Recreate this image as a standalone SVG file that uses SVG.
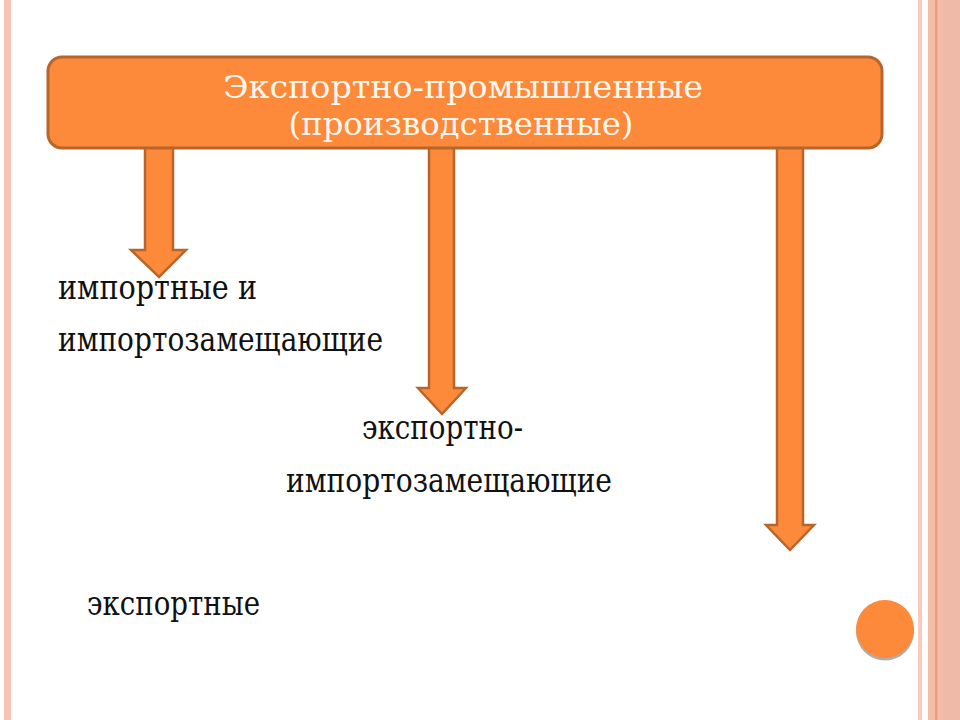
<svg xmlns="http://www.w3.org/2000/svg" width="960" height="720" viewBox="0 0 960 720">
  <defs>
    <style>
      .arrow { fill: #FC8A3A; stroke: #B8652C; stroke-width: 2.5; stroke-linejoin: miter; }
      .box { fill: #FC8A3A; stroke: #B8652C; stroke-width: 3; }
      .title { font-family: "DejaVu Serif", "Liberation Serif", serif; font-size: 31px; fill: #FFF7EE; text-anchor: middle; }
      .label { font-family: "DejaVu Serif", "Liberation Serif", serif; font-size: 33px; fill: #111111; }
    </style>
  </defs>
  <rect x="0" y="0" width="960" height="720" fill="#FFFFFF"/>
  <!-- decorative border stripes -->
  <rect x="4" y="0" width="7" height="720" fill="#F9C4B3"/>
  <rect x="918" y="0" width="4" height="720" fill="#FCCABA"/>
  <rect x="928" y="0" width="32" height="720" fill="#F4BDA9"/>
  <rect x="935" y="0" width="2.5" height="720" fill="#EE9E7E"/>
  <rect x="943" y="0" width="17" height="720" fill="#F0BAA8"/>

  <g id="connectors">
    <path class="arrow" d="M145,146 L173,146 L173,250 L186,250 L159,277 L131,250 L145,250 Z"/>
    <path class="arrow" d="M429,146 L454,146 L454,388 L466,388 L442,414 L418,388 L429,388 Z"/>
    <path class="arrow" d="M777,146 L803,146 L803,525 L814,525 L790,550 L766,525 L777,525 Z"/>
  </g>

  <g id="node-main">
    <rect class="box" x="48" y="57" width="834" height="91" rx="14" ry="14"/>
    <text class="title" x="463" y="98" textLength="480" lengthAdjust="spacingAndGlyphs">Экспортно-промышленные</text>
    <text class="title" x="461" y="135" textLength="345" lengthAdjust="spacingAndGlyphs">(производственные)</text>
  </g>

  <g id="node-import">
    <text class="label" x="58" y="299" textLength="199" lengthAdjust="spacingAndGlyphs">импортные и</text>
    <text class="label" x="58" y="351" textLength="325" lengthAdjust="spacingAndGlyphs">импортозамещающие</text>
  </g>

  <g id="node-export-import">
    <text class="label" x="362" y="439" textLength="161" lengthAdjust="spacingAndGlyphs">экспортно-</text>
    <text class="label" x="286" y="492" textLength="326" lengthAdjust="spacingAndGlyphs">импортозамещающие</text>
  </g>

  <g id="node-export">
    <text class="label" x="87" y="615" textLength="173" lengthAdjust="spacingAndGlyphs">экспортные</text>
  </g>

  <g id="decor-circle">
    <circle cx="885" cy="631.5" r="29" fill="#9A9A9A" opacity="0.8"/>
    <circle cx="885" cy="629" r="29" fill="#FC8A3A"/>
  </g>
</svg>
